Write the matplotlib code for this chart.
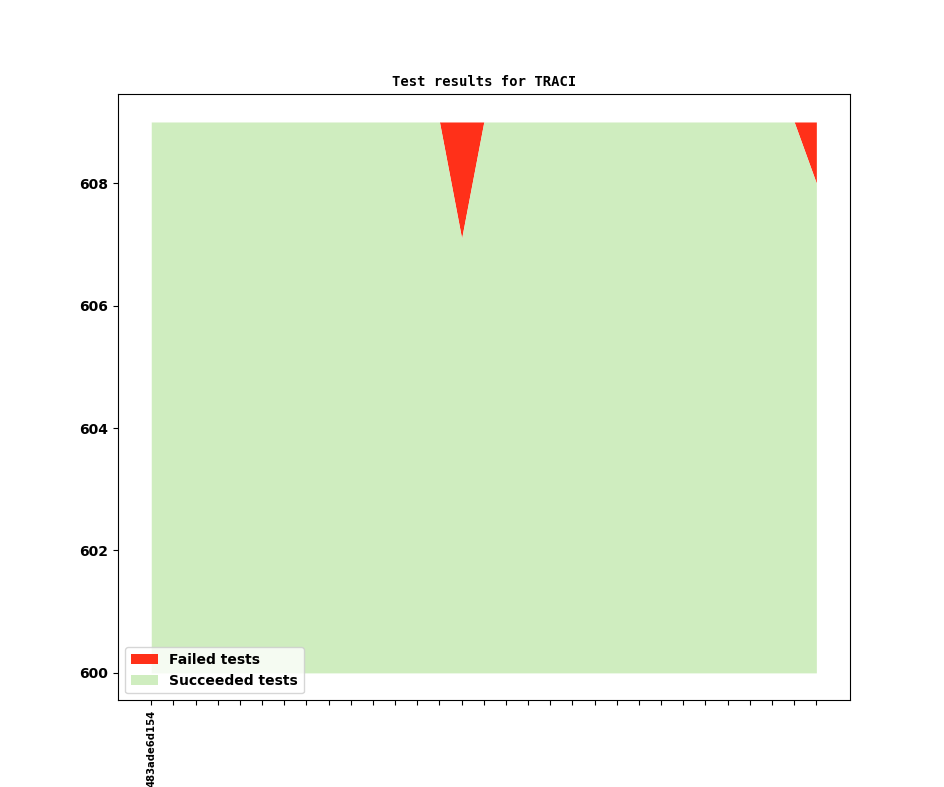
import matplotlib
matplotlib.use('Agg')
import matplotlib.pyplot as plt
import numpy as np

# test results per commit (only first commit hash is shown on the axis)
commits = ['483ade6d154'] + [''] * 30
succeeded = [609] * 14 + [607.1] + [609] * 15 + [608]
failed = [0] * 14 + [1.9] + [0] * 15 + [1]
baseline = 600

x = np.arange(len(commits))
succ = np.array(succeeded, dtype=float)
total = succ + np.array(failed, dtype=float)

fig = plt.figure(figsize=(9.44, 7.87), dpi=100)
ax = fig.add_subplot(1, 1, 1)

h_fail = ax.fill_between(x, succ, total, color='#ff3019', linewidth=0, label='Failed tests')
h_succ = ax.fill_between(x, baseline, succ, color='#cfedbf', linewidth=0, label='Succeeded tests')

ax.set_xticks(x)
ax.set_xticklabels(commits, rotation=90, fontsize=7.2, fontweight='bold')
for lbl in ax.get_yticklabels():
    lbl.set_fontweight('bold')
ax.tick_params(axis='y', labelsize=10)

ax.set_title('Test results for TRACI', fontsize=10, fontweight='bold', family='DejaVu Sans Mono')
leg = ax.legend(handles=[h_fail, h_succ], loc='lower left', prop={'weight': 'bold', 'size': 10})

fig.savefig('out.png', dpi=100)
